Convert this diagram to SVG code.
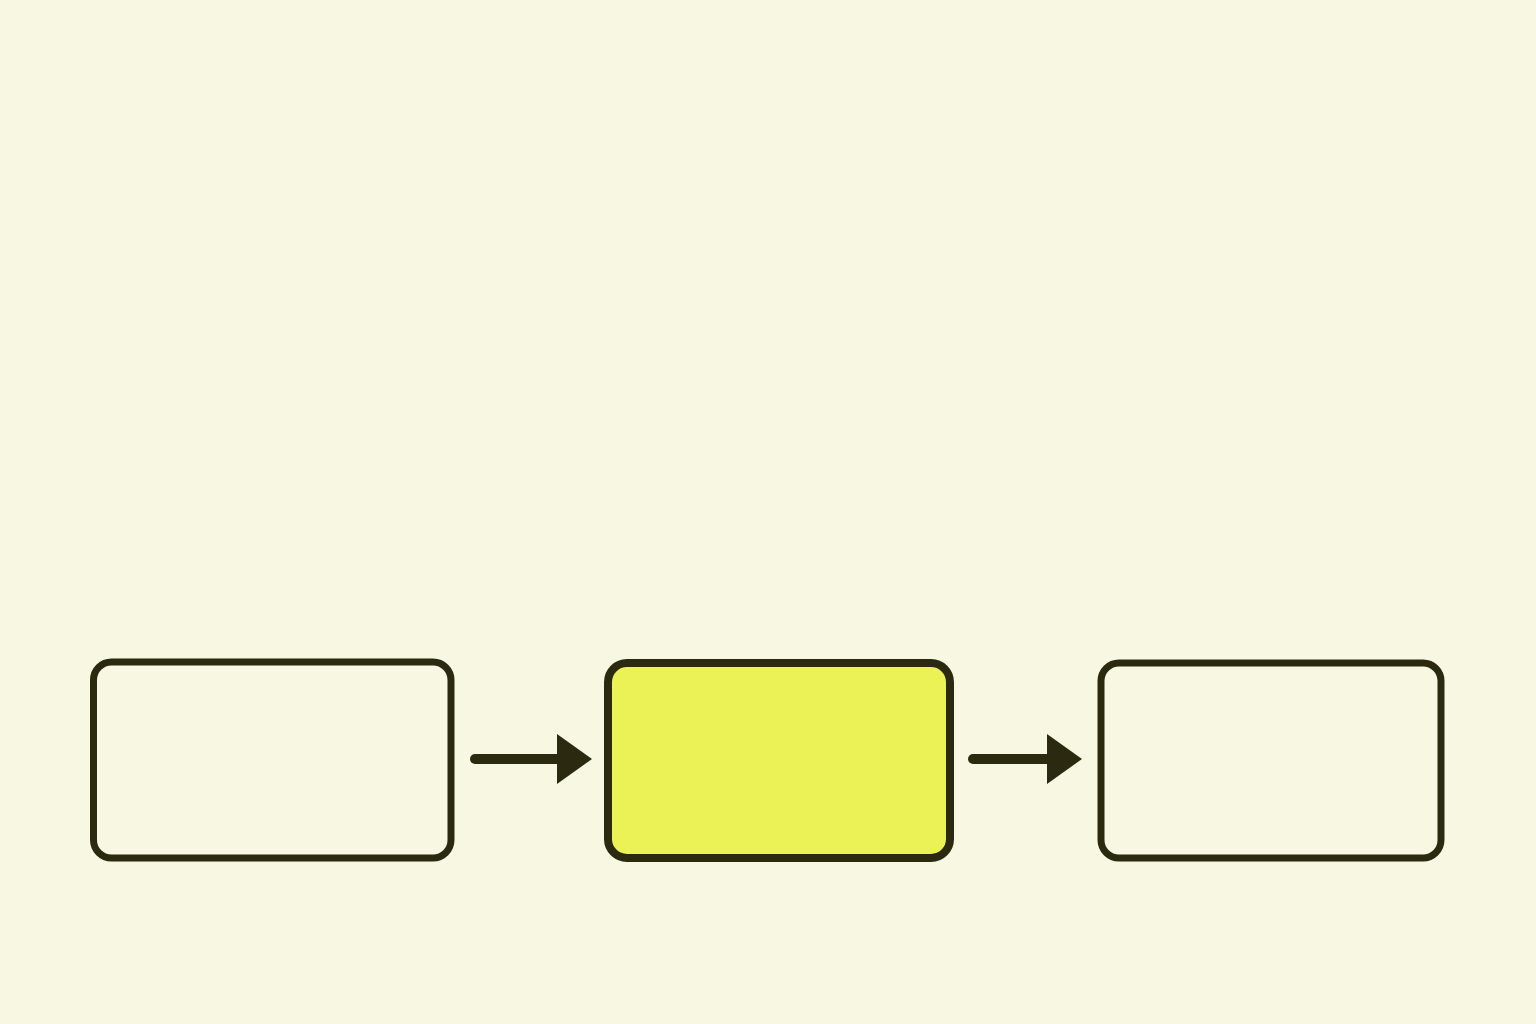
<svg xmlns="http://www.w3.org/2000/svg" width="1536" height="1024" viewBox="0 0 1536 1024">
  <style>
    .box { fill: none; stroke: #2b2a10; stroke-width: 7; }
    .hl { fill: #ebf255; stroke: #2b2a10; stroke-width: 8; }
    .line { stroke: #2b2a10; stroke-width: 10; stroke-linecap: round; fill: none; }
    .head { fill: #2b2a10; }
  </style>
  <rect width="1536" height="1024" fill="#f8f7e2"/>
  <g id="node-1">
    <rect class="box" x="93.5" y="662" width="357.5" height="196" rx="18"/>
  </g>
  <g id="node-2">
    <rect class="hl" x="608" y="663" width="342" height="195" rx="19"/>
  </g>
  <g id="node-3">
    <rect class="box" x="1101" y="663" width="340" height="195" rx="18"/>
  </g>
  <g id="connectors">
    <line class="line" x1="475" y1="759" x2="560" y2="759"/>
    <polygon class="head" points="557,734 592,759 557,784"/>
    <line class="line" x1="973" y1="759" x2="1050" y2="759"/>
    <polygon class="head" points="1047,734 1082,759 1047,784"/>
  </g>
</svg>
